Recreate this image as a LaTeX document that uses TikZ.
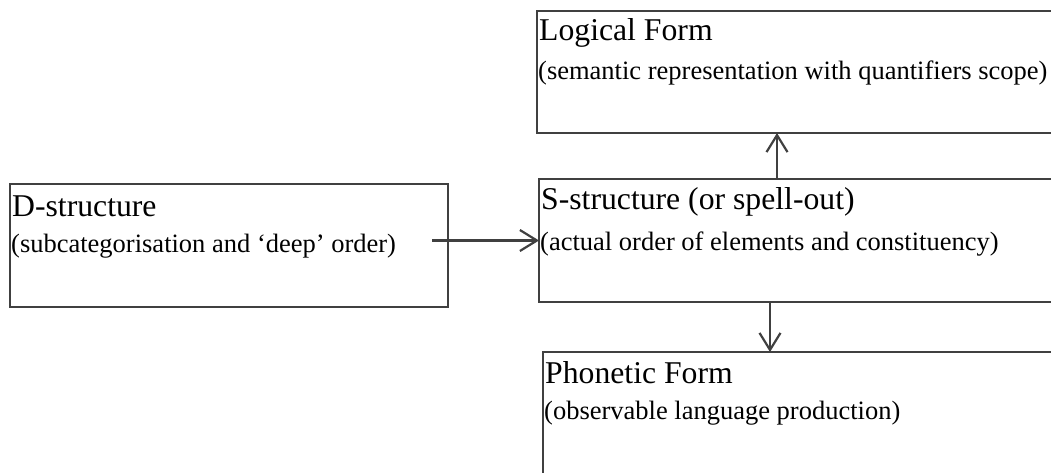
\documentclass[tikz,border=0pt]{standalone}
\usepackage{fontspec}
\setmainfont{Liberation Serif}
\usepackage{tikz}
\usetikzlibrary{arrows.meta, positioning}
\definecolor{linegray}{HTML}{404040}

\begin{document}
\begin{tikzpicture}[x=1pt, y=-1pt,
    box/.style={draw=linegray, line width=2.2pt, rectangle, inner sep=0pt, outer sep=0pt, anchor=north west},
    head/.style={anchor=base west, inner sep=0pt, font=\fontsize{31.7}{36}\selectfont},
    sub/.style={anchor=base west, inner sep=0pt, font=\fontsize{26.5}{31}\selectfont},
    flow/.style={draw=linegray, line width=2.2pt, -{Straight Barb[length=17pt, width=21pt, line width=2.2pt]}}]

  \useasboundingbox (0,0) rectangle (1051,472);
  \clip (0,0) rectangle (1051,472);

  % Boxes (the right ones run off the page)
  \node[box, minimum width=438pt, minimum height=123pt] (dbox) at (10,184) {};    % D-structure
  \node[box, minimum width=530pt, minimum height=123pt] (sbox) at (539,179) {};   % S-structure
  \node[box, minimum width=530pt, minimum height=122pt] (lfbox) at (537,11) {};   % Logical Form
  \node[box, minimum width=530pt, minimum height=140pt] (pfbox) at (543,352) {};  % Phonetic Form

  % Texts
  \node[head] (dhead) at ([shift={(2pt,-32pt)}]dbox.north west) {D-structure};
  \node[sub] (dsub) at ([shift={(1pt,-68pt)}]dbox.north west) {(subcategorisation and ‘deep’ order)};
  \node[head] (shead) at ([shift={(2pt,-30pt)}]sbox.north west) {S-structure (or spell-out)};
  \node[sub] (ssub) at ([shift={(1pt,-71pt)}]sbox.north west) {(actual order of elements and constituency)};
  \node[head] (lfhead) at ([shift={(2pt,-29pt)}]lfbox.north west) {Logical Form};
  \node[sub] (lfsub) at ([shift={(1pt,-68pt)}]lfbox.north west) {(semantic representation with quantifiers scope)};
  \node[head] (pfhead) at ([shift={(2pt,-31pt)}]pfbox.north west) {Phonetic Form};
  \node[sub] (pfsub) at ([shift={(1pt,-67pt)}]pfbox.north west) {(observable language production)};

  % Arrows
  \coordinate (dout) at ([xshift=-16pt]dbox.east |- sbox.west);
  \coordinate (sup) at ([xshift=238pt]sbox.north west);
  \coordinate (sdown) at ([xshift=231pt]sbox.south west);
  \draw[flow] (dout) -- (sbox.west);
  \draw[flow] (sup) -- (sup |- lfbox.south);
  \draw[flow] (sdown) -- (sdown |- pfbox.north);

\end{tikzpicture}
\end{document}
